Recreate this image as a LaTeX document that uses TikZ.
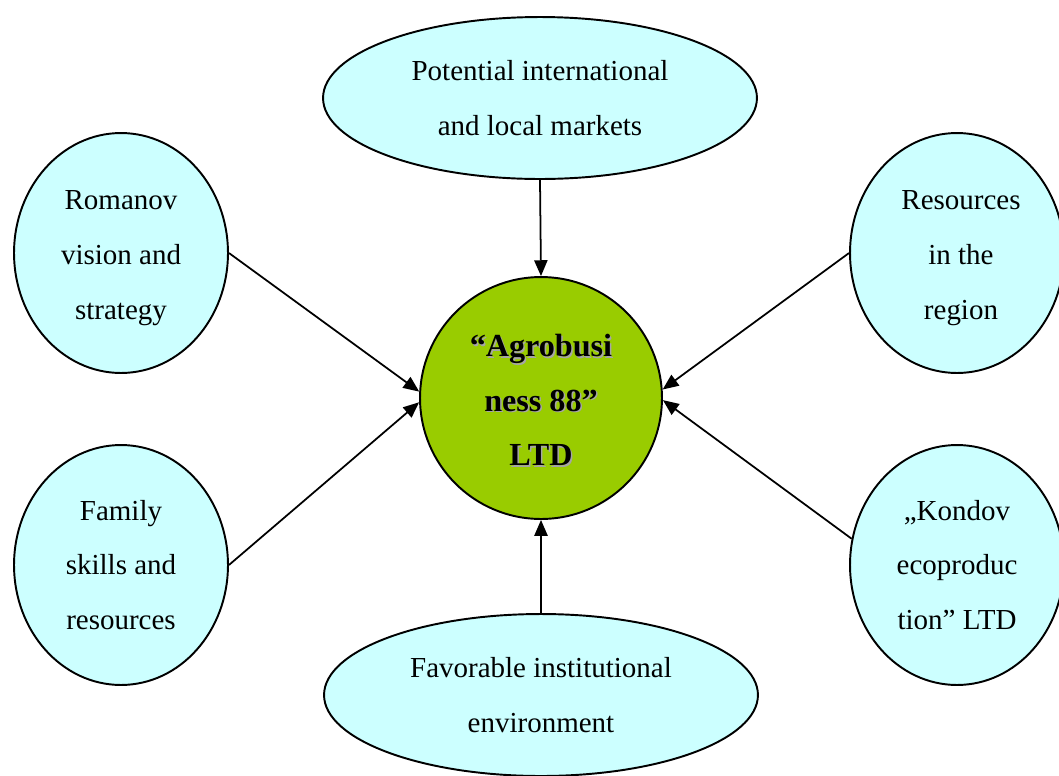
\documentclass[tikz,border=0pt]{standalone}
\usepackage{fontspec}
\setmainfont{Liberation Serif}
\usetikzlibrary{shapes.geometric,arrows.meta}
\definecolor{lightcyan}{HTML}{CCFFFF}
\definecolor{agrogreen}{HTML}{99CC00}
\tikzset{
  bubble/.style={ellipse, draw=black, line width=1.1pt, fill=lightcyan, align=center, inner sep=0pt,
    font=\fontsize{16.5}{31.2}\selectfont},
  bubbletext/.style={align=center, inner sep=0pt, font=\fontsize{16.5}{31.2}\selectfont},
  sidebubble/.style={bubble, minimum width=4.28cm, minimum height=4.8cm},
  widebubble/.style={bubble, minimum width=8.68cm, minimum height=3.24cm},
  hub/.style={circle, draw=black, line width=1.1pt, fill=agrogreen, minimum size=4.84cm, inner sep=0pt},
  hubtext/.style={align=center, inner sep=0pt, font=\fontsize{18.3}{31}\selectfont\bfseries},
  link/.style={line width=1pt, -{Triangle[length=9pt,width=7.5pt]}}
}
\begin{document}
\begin{tikzpicture}[x=0.02cm,y=-0.02cm]
\useasboundingbox (0,0) rectangle (1059,775);
\clip (0,0) rectangle (1059,775);
\fill[white] (0,0) rectangle (1059,775);
\node[widebubble] (top) at (540,98) {Potential international\\and local markets};
\node[widebubble] (bot) at (541,695) {Favorable institutional\\environment};
\node[sidebubble] (lt) at (121,253) {};
\node[bubbletext] (ltt) at (121,258) {Romanov\\vision and\\strategy};
\node[sidebubble] (lb) at (121,565) {Family\\skills and\\resources};
\node[sidebubble] (rt) at (957,253) {};
\node[bubbletext] (rtt) at (961,258) {Resources\\in the\\region};
\node[sidebubble] (rb) at (957,565) {„Kondov\\ecoproduc\\tion” LTD};
\node[hub] (hub) at (541,398) {};
\node[hubtext, text=gray!70] (hubshadow) at (542.5,401.5) {“Agrobusi\\ness 88”\\LTD};
\node[hubtext] (hubtxt) at (541,400) {“Agrobusi\\ness 88”\\LTD};
\draw[link] (top.south) -- (hub.north);
\draw[link] (bot.north) -- (hub.south);
\draw[link] (lt.east) -- (hub.177);
\draw[link] (lb.east) -- (hub.182);
\draw[link] (rt.west) -- (hub.4);
\draw[link] (rb.166) -- (hub.-1);
\end{tikzpicture}
\end{document}
